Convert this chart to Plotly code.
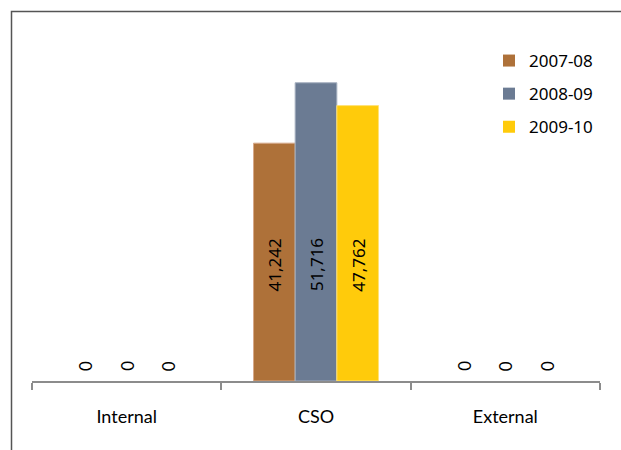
import plotly.graph_objects as go

categories = ["Internal", "CSO", "External"]
series_names = ["2007-08", "2008-09", "2009-10"]
v_2007_08 = [0, 41242, 0]
v_2008_09 = [0, 51716, 0]
v_2009_10 = [0, 47762, 0]
colors = ["#AE7139", "#6B7B93", "#FFCB0B"]
line_colors = ["#D7A98A", "#A5AFBF", "#FFE27A"]

series = [v_2007_08, v_2008_09, v_2009_10]

W, H = 621, 450
L, R, T, B = 32, 21, 35, 69
BARGAP = 0.34

fig = go.Figure()
for j, (name, vals) in enumerate(zip(series_names, series)):
    fig.add_trace(go.Bar(
        x=categories, y=vals, name=name,
        marker=dict(color=colors[j],
                    line=dict(color=line_colors[j], width=[1 if v > 0 else 0 for v in vals])),
        legendgroup=name,
    ))

annotations = []
group_w = 1 - BARGAP
for j, vals in enumerate(series):
    for i, v in enumerate(vals):
        xpos = i + (j - 1) * group_w / 3
        if v == 0:
            annotations.append(dict(x=xpos, y=0, xref="x", yref="y", text=f"{v:,}",
                                    textangle=-90, showarrow=False, yanchor="middle",
                                    yshift=15, font=dict(family="Lato", size=17, color="#000")))
        else:
            annotations.append(dict(x=xpos, y=20100, xref="x", yref="y", text=f"{v:,}",
                                    textangle=-90, showarrow=False, yanchor="middle",
                                    font=dict(family="Noto Sans", size=17, color="#000")))

pw = W - L - R
ph = H - T - B
def px2x(px):
    return (px - L) / pw
def py2y(py):
    return (H - B - py) / ph

frame = dict(type="path", xref="paper", yref="paper",
             path=f"M {px2x(11.5)},{py2y(452)} L {px2x(11.5)},{py2y(11.5)} L {px2x(625)},{py2y(11.5)}",
             line=dict(color="#555555", width=1.5))

fig.update_layout(
    width=W, height=H,
    margin=dict(l=L, r=R, t=T, b=B),
    paper_bgcolor="white", plot_bgcolor="white",
    barmode="group", bargap=BARGAP, bargroupgap=0,
    showlegend=True,
    legend=dict(x=px2x(489), y=py2y(43), xanchor="left", yanchor="top",
                font=dict(family="Noto Sans", size=17, color="#000"),
                traceorder="grouped", tracegroupgap=8, bgcolor="rgba(0,0,0,0)"),
    xaxis=dict(type="category", range=[-0.5, 2.5], showline=True, linecolor="#8C8C8C", linewidth=2,
               ticks="outside", tickson="boundaries", ticklen=7, tickwidth=2, tickcolor="#8C8C8C",
               tickfont=dict(family="Lato", size=18, color="#000"), ticklabelstandoff=18,
               showgrid=False, zeroline=False, fixedrange=True),
    yaxis=dict(range=[0, 60000], visible=False, showgrid=False, zeroline=False),
    annotations=annotations,
    shapes=[frame],
)

fig.write_html("out.html")
